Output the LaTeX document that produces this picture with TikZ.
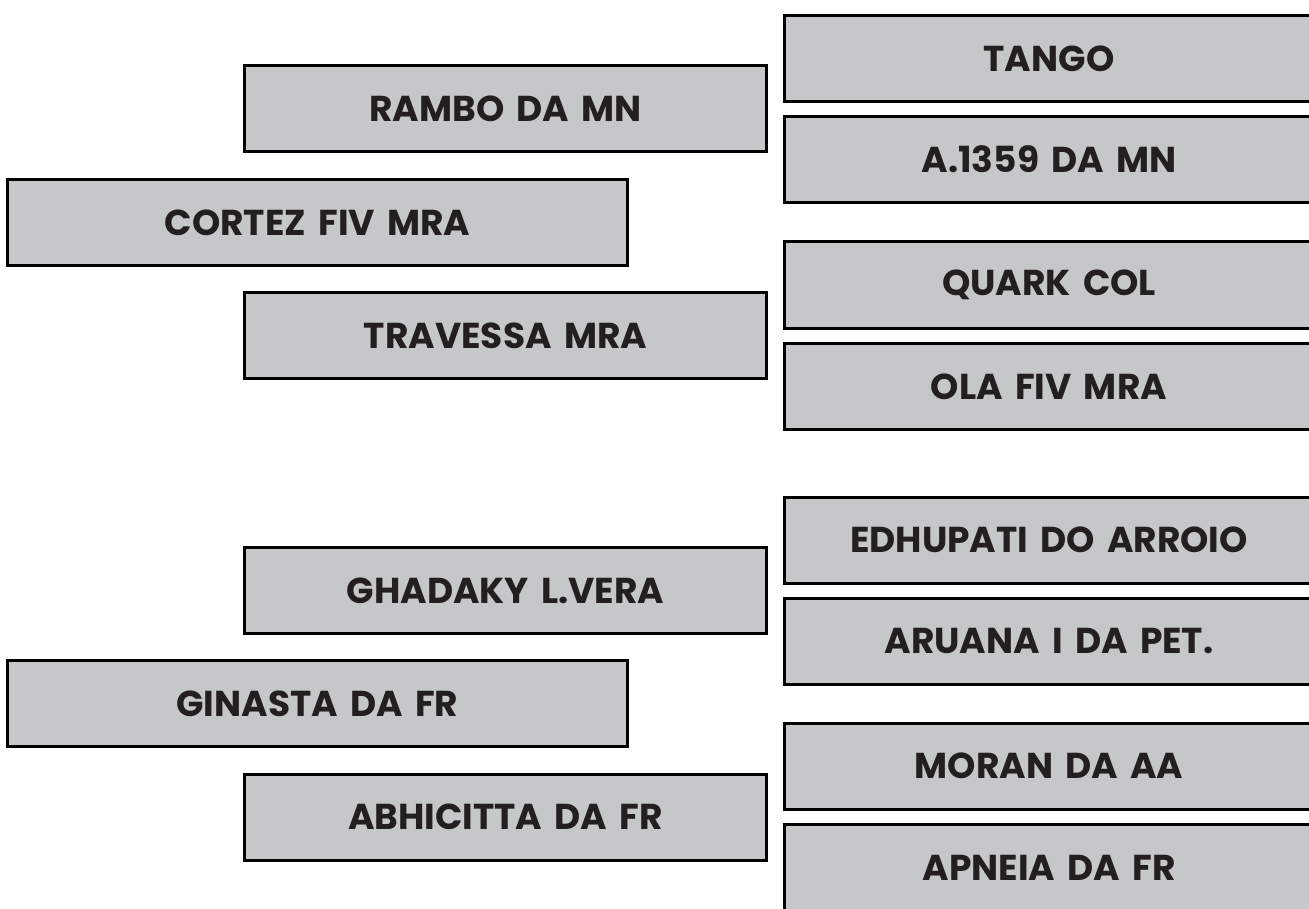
\documentclass[tikz,border=0pt]{standalone}
\usepackage{fontspec}
\setmainfont{Poppins}[WordSpace=1.6]
\definecolor{boxfill}{RGB}{198,199,201}
\definecolor{txt}{RGB}{35,31,32}
\tikzset{
  lbox/.style={draw=black, line width=3pt, fill=boxfill, rectangle, inner sep=0pt,
    minimum height=86pt, text=txt, font=\fontsize{36}{40}\selectfont\bfseries},
  boxA/.style={lbox, minimum width=522pt},
  boxB/.style={lbox, minimum width=620pt},
  boxR/.style={lbox, minimum width=529pt}
}
\begin{document}
\begin{tikzpicture}[x=1pt,y=-1pt]
\path[use as bounding box, clip] (0,0) rectangle (1309,909);
\fill[white] (0,0) rectangle (1309,909);
% upper group
\node[boxA] (rambo) at (505.5,109) {RAMBO DA MN};
\node[boxB] (cortez) at (317.5,222.5) {CORTEZ FIV MRA};
\node[boxA] (travessa) at (505.5,335.5) {TRAVESSA MRA};
\node[boxR] (tango) at (1049,58.5) {TANGO};
\node[boxR] (a1359) at (1049,159.5) {A.1359 DA MN};
\node[boxR] (quark) at (1049,285) {QUARK COL};
\node[boxR] (ola) at (1049,386.5) {OLA FIV MRA};
% lower group
\node[boxA] (ghadaky) at (505.5,590.5) {GHADAKY L.VERA};
\node[boxB] (ginasta) at (317.5,703.5) {GINASTA DA FR};
\node[boxA] (abhicitta) at (505.5,817) {ABHICITTA DA FR};
\node[boxR] (edhupati) at (1049,540) {EDHUPATI DO ARROIO};
\node[boxR] (aruana) at (1049,641.5) {ARUANA I DA PET.};
\node[boxR] (moran) at (1049,766) {MORAN DA AA};
\node[boxR] (apneia) at (1049,867.5) {APNEIA DA FR};
\end{tikzpicture}
\end{document}
